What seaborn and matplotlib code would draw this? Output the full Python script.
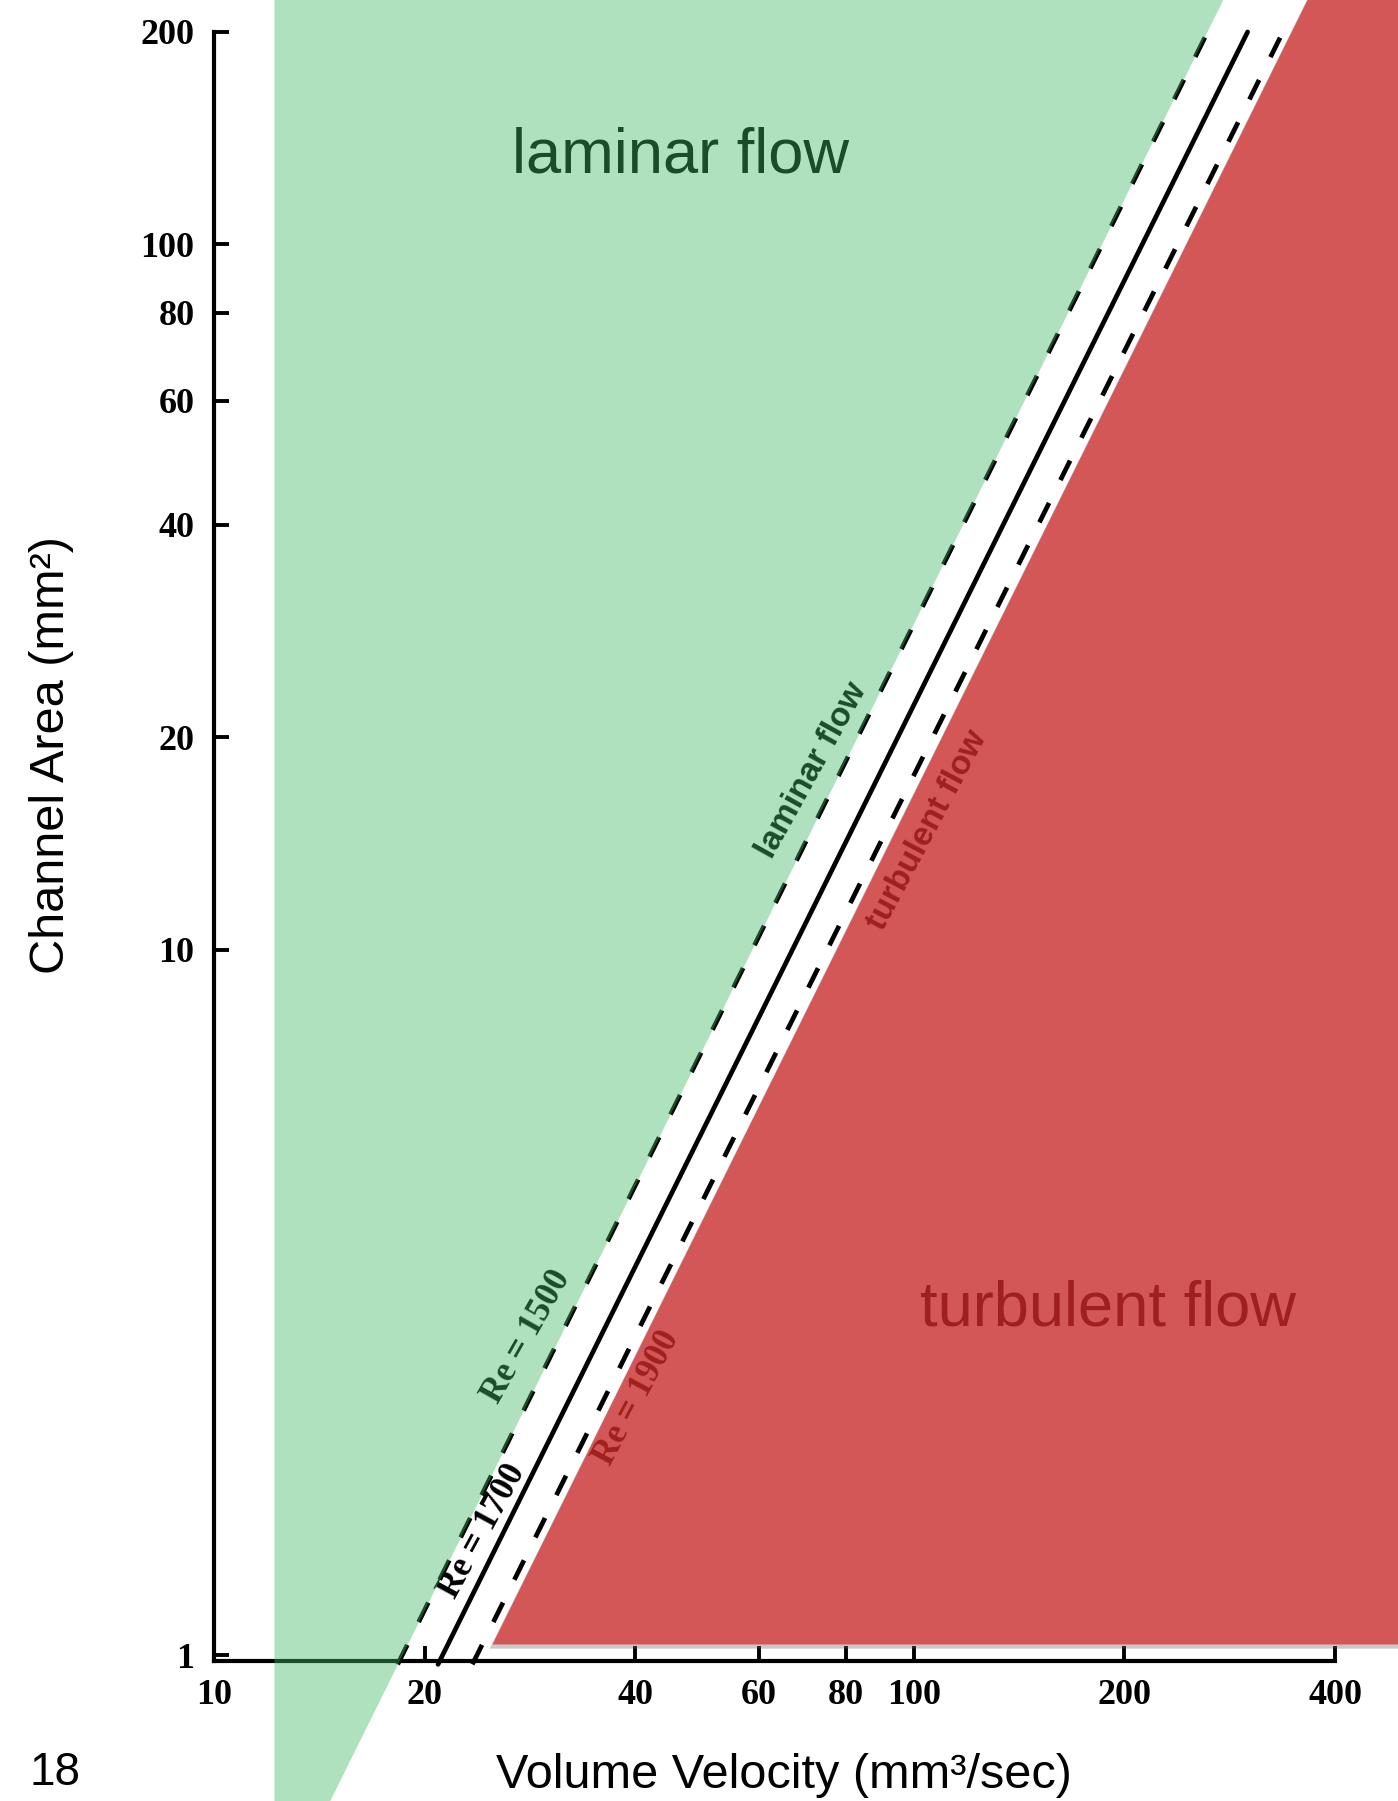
import numpy as np
import pandas as pd
import matplotlib
matplotlib.use("Agg")
import matplotlib.pyplot as plt
import matplotlib.patheffects as pe
from matplotlib.ticker import NullLocator, FixedLocator, FixedFormatter
import seaborn as sns

# ---------------- data ----------------
re_numbers = [1500, 1700, 1900]
re_labels = ["Re = 1500", "Re = 1700", "Re = 1900"]
# end points of each Reynolds-number line: volume velocity (mm^3/s), channel area (mm^2)
line_q_low = [18.3, 20.9, 23.4]
line_q_high = [263, 300, 337]
line_a_low = [0.97, 0.97, 0.97]
line_a_high = [200, 200, 200]

# shaded regions (vertices: volume velocity, channel area)
laminar_q = [12.2, 12.2, 288, 13.8]
laminar_a = [0.55, 240, 240, 0.55]
turbulent_q = [25.0, 380, 600, 600]
turbulent_a = [1.035, 240, 240, 1.035]

x_ticks = [10, 20, 40, 60, 80, 100, 200, 400]
y_ticks = [1, 10, 20, 40, 60, 80, 100, 200]

# ---------------- figure ----------------
sns.set_theme(style="ticks")
plt.rcParams["font.family"] = ["Liberation Sans", "DejaVu Sans"]

W, H = 1398, 1801
fig = plt.figure(figsize=(W / 100, H / 100), dpi=100, facecolor="white")
ax = fig.add_axes([0, 0, 1, 1])
ax.set_facecolor("white")
ax.set_xscale("log")
ax.set_yscale("log")

rows = []
for re, q0, q1, a0, a1 in zip(re_numbers, line_q_low, line_q_high, line_a_low, line_a_high):
    rows.append({"Re": re, "Q": q0, "A": a0})
    rows.append({"Re": re, "Q": q1, "A": a1})
df = pd.DataFrame(rows)

sns.lineplot(data=df, x="Q", y="A", style="Re",
             dashes={1500: (4.6, 5.4), 1700: "", 1900: (4.6, 5.4)},
             color="black", linewidth=3.4, legend=False,
             estimator=None, sort=False, ax=ax, zorder=3)

# overlays
ax.fill(laminar_q, laminar_a, color=(65 / 255, 185 / 255, 101 / 255),
        alpha=0.415, lw=0, zorder=5)
ax.fill(turbulent_q, turbulent_a, color="#d45757", lw=0, zorder=5,
        path_effects=[pe.SimplePatchShadow(offset=(-2, -3), shadow_rgbFace="#666666", alpha=0.35),
                      pe.Normal()])

ax.set_xlim(4.945, 492.1)
ax.set_ylim(0.6209, 222.0)

# axes / spines
ax.spines["top"].set_visible(False)
ax.spines["right"].set_visible(False)
ax.spines["left"].set_position(("data", 10))
ax.spines["bottom"].set_position(("data", 0.98))
ax.spines["left"].set_bounds(0.98, 200)
ax.spines["bottom"].set_bounds(10, 400)
for s in ["left", "bottom"]:
    ax.spines[s].set_linewidth(3.0)
    ax.spines[s].set_color("black")
    ax.spines[s].set_zorder(2.5)

ax.xaxis.set_major_locator(FixedLocator(x_ticks))
ax.xaxis.set_major_formatter(FixedFormatter([str(v) for v in x_ticks]))
ax.yaxis.set_major_locator(FixedLocator(y_ticks))
ax.yaxis.set_major_formatter(FixedFormatter([str(v) for v in y_ticks]))
ax.xaxis.set_minor_locator(NullLocator())
ax.yaxis.set_minor_locator(NullLocator())
ax.tick_params(axis="both", which="major", direction="in", length=11, width=2.8,
               color="black", labelsize=26, bottom=True, left=True)
ax.tick_params(axis="x", pad=13)
ax.tick_params(axis="y", pad=14)
for lab in ax.get_xticklabels() + ax.get_yticklabels():
    lab.set_fontfamily("Liberation Serif")
    lab.set_fontweight("bold")
    lab.set_color("black")

ax.set_xlabel("Volume Velocity (mm³/sec)", fontsize=35, va="center", color="black")
ax.xaxis.set_label_coords(784 / W, 1 - 1775 / H)
ax.set_ylabel("Channel Area (mm²)", fontsize=35, va="center", color="black")
ax.yaxis.set_label_coords(52 / W, 1 - 755 / H)

def px(x, y):
    return x / W, 1 - y / H

# big region labels
ax.text(*px(680.5, 172.7), "laminar flow", transform=ax.transAxes, ha="center",
        va="baseline", fontsize=45.5, color="black", zorder=4)
ax.text(*px(1107.5, 1325.7), "turbulent flow", transform=ax.transAxes, ha="center",
        va="baseline", fontsize=45.5, color="#a01f1f", zorder=6)

# labels along the lines
ax.text(*px(812, 770), "laminar flow", transform=ax.transAxes, ha="center", va="center",
        rotation=61, rotation_mode="anchor", fontsize=24, fontweight="bold",
        color="black", zorder=4)
ax.text(*px(927, 830), "turbulent flow", transform=ax.transAxes, ha="center", va="center",
        rotation=62, rotation_mode="anchor", fontsize=24, fontweight="bold",
        color="#a01f1f", zorder=6)
re_pos = [(527, 1337), (483, 1531), (637, 1398)]
re_rot = [60.5, 61.5, 62]
re_color = [("black", 4), ("black", 4), ("#a01f1f", 6)]
for lbl, (x, y), rot, (col, z) in zip(re_labels, re_pos, re_rot, re_color):
    ax.text(*px(x, y), lbl, transform=ax.transAxes, ha="center", va="center",
            rotation=rot, rotation_mode="anchor", fontsize=25,
            fontweight="bold", fontfamily="Liberation Serif", color=col, zorder=z)

# page number
ax.text(*px(55, 1773), "18", transform=ax.transAxes, ha="center", va="center",
        fontsize=33, color="black")

fig.savefig("out.png", dpi=100, facecolor="white")
